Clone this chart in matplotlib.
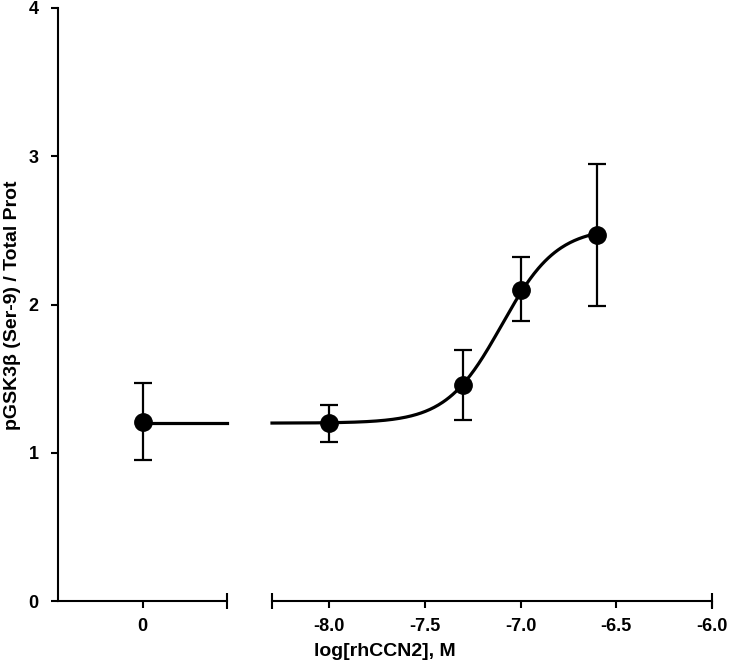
import numpy as np
import matplotlib
matplotlib.use("Agg")
import matplotlib.pyplot as plt

plt.rcParams['font.family'] = ['Liberation Sans', 'DejaVu Sans']
plt.rcParams['font.weight'] = 'bold'

# control (no rhCCN2), plotted on the broken "0" segment
ctrl_x = [0]
ctrl_y = [1.21]
ctrl_lo = [0.95]
ctrl_hi = [1.47]

# dose response
log_conc = [-8.0, -7.3, -7.0, -6.6]
resp = [1.20, 1.455, 2.10, 2.47]
resp_lo = [1.07, 1.22, 1.89, 1.99]
resp_hi = [1.32, 1.69, 2.32, 2.95]

# fitted sigmoid parameters
bottom, top, logec50, hill = 1.2, 2.52, -7.1, 3.0

right_ticks = [-8.0, -7.5, -7.0, -6.5, -6.0]
right_ticklabels = ['-8.0', '-7.5', '-7.0', '-6.5', '-6.0']

W, H = 729, 666
fig = plt.figure(figsize=(W / 100, H / 100), dpi=100)

y0, y1 = 601, 8
axb = (H - y0) / H
axh = (y0 - y1) / H
ax1 = fig.add_axes([58 / W, axb, (227 - 58) / W, axh])
ax2 = fig.add_axes([272 / W, axb, (712 - 272) / W, axh])

lw = 1.5
for ax in (ax1, ax2):
    ax.set_ylim(0, 4)
    for s in ['top', 'right']:
        ax.spines[s].set_visible(False)
    ax.spines['bottom'].set_linewidth(lw)
    ax.spines['left'].set_linewidth(lw)
    ax.tick_params(width=lw, length=5, labelsize=13, direction='out', pad=7)
    ax.patch.set_alpha(0)

# left segment
ax1.set_xlim(-1, 1)
ax1.set_xticks([0])
ax1.set_xticklabels(['0'])
ax1.set_yticks([0, 1, 2, 3, 4])
ax1.tick_params(axis='y', pad=9)
ax1.errorbar(ctrl_x, ctrl_y,
             yerr=[np.array(ctrl_y) - np.array(ctrl_lo), np.array(ctrl_hi) - np.array(ctrl_y)],
             fmt='o', color='black', ms=12.5, elinewidth=1.6, capsize=6.5, capthick=1.6, zorder=3)
ax1.plot([0, 1], [bottom, bottom], color='black', lw=2.3, clip_on=False)
ax1.plot([1], [0], marker='|', color='black', ms=12, mew=lw, clip_on=False)

# right segment
ax2.set_xlim(-8.3, -6.0)
ax2.spines['left'].set_visible(False)
ax2.tick_params(axis='y', left=False, labelleft=False)
ax2.set_xticks(right_ticks)
ax2.set_xticklabels(right_ticklabels)
xs = np.linspace(-8.3, -6.6, 300)
ys = bottom + (top - bottom) / (1 + 10 ** ((logec50 - xs) * hill))
ax2.plot(xs, ys, color='black', lw=2.3, clip_on=False)
ax2.errorbar(log_conc, resp,
             yerr=[np.array(resp) - np.array(resp_lo), np.array(resp_hi) - np.array(resp)],
             fmt='o', color='black', ms=12.5, elinewidth=1.6, capsize=6.5, capthick=1.6, zorder=3)
ax2.plot([-8.3, -6.0], [0, 0], ls='none', marker='|', color='black', ms=12, mew=lw, clip_on=False)

fig.text(13 / W, 1 - 305 / H, 'pGSK3\u03b2 (Ser-9) / Total Prot', rotation=90,
         ha='center', va='center', fontsize=14, fontweight='bold')
fig.text(385 / W, 1 - 652 / H, 'log[rhCCN2], M', ha='center', va='center',
         fontsize=14, fontweight='bold')

fig.savefig('out.png', dpi=100)
